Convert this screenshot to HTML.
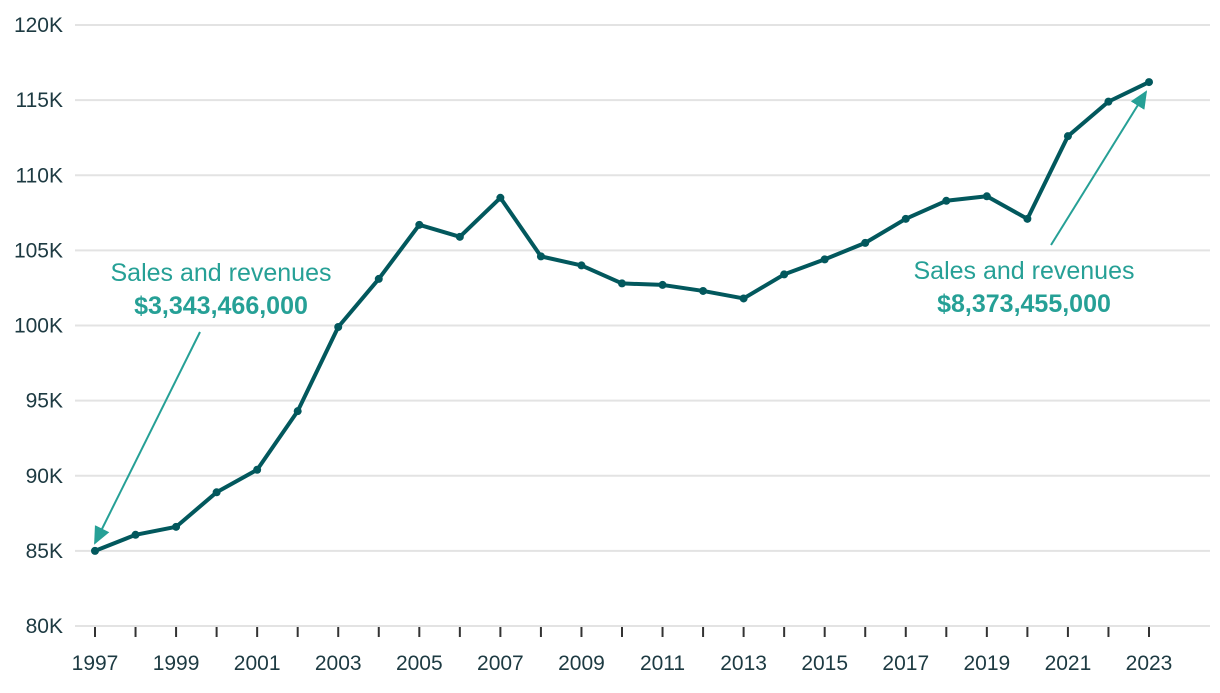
<!DOCTYPE html>
<html><head><meta charset="utf-8"><style>
html,body{margin:0;padding:0;background:#fff;}
svg text{font-family:"Liberation Sans",sans-serif;}
</style></head><body>
<svg id="chart" width="1220" height="688" xmlns="http://www.w3.org/2000/svg">
<g id="grid"></g><g id="axes"></g><g id="series"></g>
<g id="ann"></g>
</svg>
<script>
const years=[1997,1998,1999,2000,2001,2002,2003,2004,2005,2006,2007,2008,2009,2010,2011,2012,2013,2014,2015,2016,2017,2018,2019,2020,2021,2022,2023];
const values=[85.0,86.07,86.6,88.9,90.4,94.3,99.9,103.1,106.7,105.9,108.5,104.6,104.0,102.8,102.7,102.3,101.8,103.4,104.4,105.5,107.1,108.3,108.6,107.1,112.6,114.9,116.2];
const yTicks=[80,85,90,95,100,105,110,115,120];
const xLabels=[1997,1999,2001,2003,2005,2007,2009,2011,2013,2015,2017,2019,2021,2023];
const NS='http://www.w3.org/2000/svg';
const x=v=>95+(v-1997)*(1149-95)/26;
const y=v=>626-(v-80)*(626-25)/40;
function mk(t,a,p){const e=document.createElementNS(NS,t);for(const k in a)e.setAttribute(k,a[k]);p.appendChild(e);return e;}
const grid=document.getElementById('grid'),axes=document.getElementById('axes'),ser=document.getElementById('series'),ann=document.getElementById('ann');
yTicks.forEach(t=>{
 const l=mk('line',{x1:75,x2:1210,y1:y(t),y2:y(t),stroke:'#e3e3e3','stroke-width':2},grid);
 
 
 const tx=mk('text',{x:63,y:y(t)+7,'text-anchor':'end','font-size':21,fill:'#1d3a42'},axes);
 tx.textContent=t+'K';
 
 
});
years.forEach(v=>{
 const l=mk('line',{x1:x(v),x2:x(v),y1:627,y2:637,stroke:'#333','stroke-width':2},axes);
 
 
});
xLabels.forEach(v=>{
 const t=mk('text',{x:x(v),y:670,'text-anchor':'middle','font-size':21,fill:'#1d3a42'},axes);
 t.textContent=v;
 
 
});
const pts=years.map((v,i)=>x(v)+','+y(values[i])).join(' ');
const pl=mk('polyline',{points:pts,fill:'none',stroke:'#02585d','stroke-width':4,'stroke-linejoin':'round'},ser);


years.forEach((v,i)=>{
 const c=mk('circle',{cx:x(v),cy:y(values[i]),r:4,fill:'#02585d'},ser);
 
 
});
</script>
<svg style="position:absolute;left:0;top:0" width="1220" height="688" xmlns="http://www.w3.org/2000/svg">
<defs><marker id="ah" markerWidth="18" markerHeight="18" refX="16" refY="8" orient="auto" markerUnits="userSpaceOnUse" viewBox="0 0 18 16"><path d="M0,0 L18,8 L0,16 z" fill="#26a096"/></marker></defs>
<g>
<text x="221" y="281" text-anchor="middle" font-size="25" fill="#26a096" font-family="Liberation Sans, sans-serif">Sales and revenues</text>
<text x="221" y="314" text-anchor="middle" font-size="25" font-weight="bold" fill="#26a096" font-family="Liberation Sans, sans-serif">$3,343,466,000</text>
<line x1="200" y1="332" x2="95" y2="543" stroke="#26a096" stroke-width="2" marker-end="url(#ah)"/>
</g>
<g>
<text x="1024" y="279" text-anchor="middle" font-size="25" fill="#26a096" font-family="Liberation Sans, sans-serif">Sales and revenues</text>
<text x="1024" y="312" text-anchor="middle" font-size="25" font-weight="bold" fill="#26a096" font-family="Liberation Sans, sans-serif">$8,373,455,000</text>
<line x1="1051" y1="245" x2="1146" y2="92" stroke="#26a096" stroke-width="2" marker-end="url(#ah)"/>
</g>
</svg>
</body></html>
